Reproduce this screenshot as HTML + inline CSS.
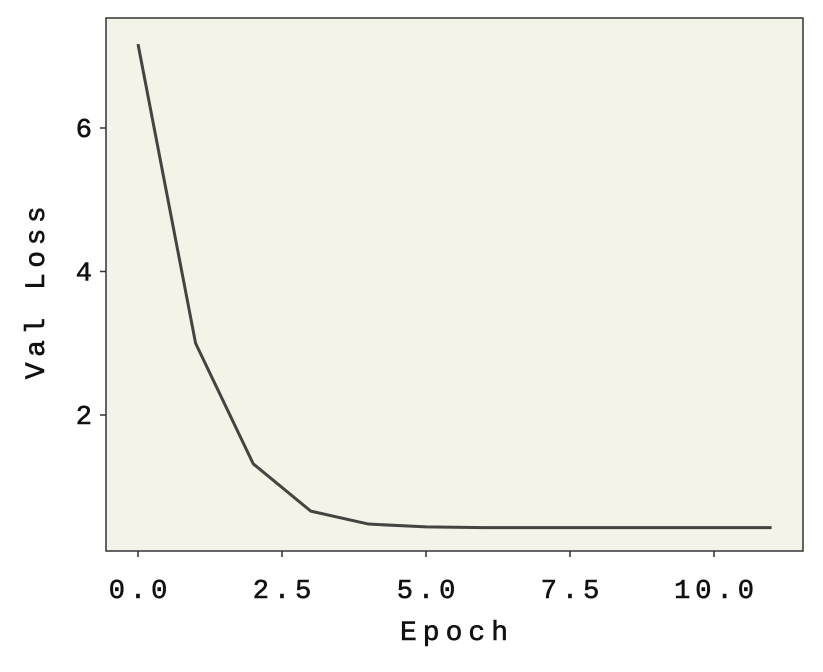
<!DOCTYPE html>
<html><head><meta charset="utf-8"><style>
body{margin:0;background:#fff;}
svg text{font-family:"Liberation Mono","DejaVu Sans Mono",monospace;fill:#111;stroke:#111;stroke-width:0.6;}
</style></head><body>
<svg id="chart" width="823" height="667" xmlns="http://www.w3.org/2000/svg">
<rect x="106" y="18" width="697" height="533" fill="#f3f3e7"/>
<g id="ticks"></g>
<path id="line" fill="none" stroke="#444440" stroke-width="3" stroke-linejoin="round"/>
<rect x="106" y="18" width="697" height="533" fill="none" stroke="#333" stroke-width="1.5"/>
<text x="457" y="640" font-size="28" letter-spacing="6" text-anchor="middle">Epoch</text>
<text transform="translate(44,290) rotate(-90)" font-size="28" letter-spacing="5.5" text-anchor="middle">Val Loss</text>
</svg>
<script>
const epochs=[0,1,2,3,4,5,6,7,8,9,10,11];
const valLoss=[7.17,3.0,1.32,0.66,0.48,0.44,0.43,0.43,0.43,0.43,0.43,0.43];
const xTicks=[0,2.5,5,7.5,10];
const xTickLabels=["0.0","2.5","5.0","7.5","10.0"];
const yTicks=[2,4,6];
const yTickLabels=["2","4","6"];
const X=v=>138+v*57.6;
const Y=v=>558.5-v*71.75;
const ns="http://www.w3.org/2000/svg";
const g=document.getElementById('ticks');
function mk(t,a){const e=document.createElementNS(ns,t);for(const k in a)e.setAttribute(k,a[k]);g.appendChild(e);return e;}
xTicks.forEach((v,i)=>{
 const l=mk('line',{x1:X(v),x2:X(v),y1:551,y2:557,stroke:'#333','stroke-width':1.5});
 
 
 const t=mk('text',{x:X(v)+2.5,y:598,'font-size':27,'letter-spacing':5,'text-anchor':'middle'});
 t.textContent=xTickLabels[i];
 
 
});
yTicks.forEach((v,i)=>{
 const l=mk('line',{x1:100,x2:106,y1:Y(v),y2:Y(v),stroke:'#333','stroke-width':1.5});
 
 
 const t=mk('text',{x:92,y:Y(v)+9,'font-size':27,'text-anchor':'end'});
 t.textContent=yTickLabels[i];
 
 
});
document.getElementById('line').setAttribute('d',epochs.map((e,i)=>(i?'L':'M')+X(e)+','+Y(valLoss[i])).join(' '));
</script>
</body></html>
